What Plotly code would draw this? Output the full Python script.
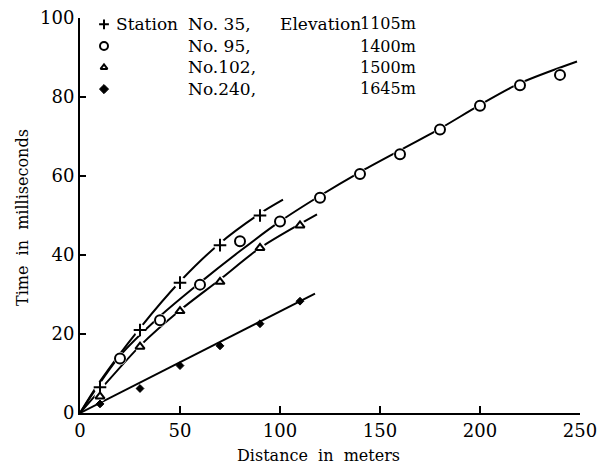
import plotly.graph_objects as go

FONT = "DejaVu Serif"

# Measured points
st35_x = [10, 30, 50, 70, 90]
st35_y = [6.5, 21, 33, 42.5, 50]
st95_x = [20, 40, 60, 80, 100, 120, 140, 160, 180, 200, 220, 240]
st95_y = [13.8, 23.5, 32.5, 43.5, 48.5, 54.5, 60.5, 65.5, 71.8, 77.8, 83, 85.6]
st102_x = [10, 30, 50, 70, 90, 110]
st102_y = [4.2, 16.8, 25.8, 33.2, 41.8, 47.5]
st240_x = [10, 30, 50, 70, 90, 110]
st240_y = [2.3, 6.2, 12, 17, 22.6, 28.3]

# Fitted curves as drawn
c35_x = [0, 10, 30, 50, 70, 90, 101.5]
c35_y = [0, 8, 21.5, 33.3, 43, 50.5, 54]
c95_x = [0, 20, 40, 60, 80, 100, 120, 140, 160, 180, 200, 220, 248.5]
c95_y = [0, 14.5, 24.5, 33, 41, 48.5, 55, 61, 66.5, 72, 78, 83.5, 89]
c102_x = [0, 10, 30, 50, 70, 90, 118.5]
c102_y = [0, 5.8, 17, 26, 33.8, 41.8, 50.3]
c240_x = [0, 117.5]
c240_y = [0, 30.2]

x_ticks = [0, 50, 100, 150, 200, 250]
y_ticks = [0, 20, 40, 60, 80, 100]

names = ["No. 35,", "No. 95,", "No.102,", "No.240,"]
elevations = ["1105m", "1400m", "1500m", "1645m"]
symbols = ["cross-thin-open", "circle-open", "triangle-up-open", "diamond"]
sizes = [9, 10, 8, 6]

fig = go.Figure()

curves = [(c35_x, c35_y), (c95_x, c95_y), (c102_x, c102_y), (c240_x, c240_y)]
for cx, cy in curves:
    fig.add_trace(go.Scatter(x=cx, y=cy, mode="lines",
                             line=dict(color="black", width=2, shape="spline", smoothing=0.8),
                             showlegend=False, hoverinfo="skip"))

pts = [(st35_x, st35_y), (st95_x, st95_y), (st102_x, st102_y), (st240_x, st240_y)]
# white halos to break the lines around open markers
for i, (px, py) in enumerate(pts[:3]):
    fig.add_trace(go.Scatter(x=px, y=py, mode="markers",
                             marker=dict(symbol="circle", size=sizes[i] + 3, color="white", line=dict(width=0)),
                             showlegend=False, hoverinfo="skip"))
for i, (px, py) in enumerate(pts):
    fig.add_trace(go.Scatter(x=px, y=py, mode="markers",
                             marker=dict(symbol=symbols[i], size=sizes[i], color="black",
                                         line=dict(color="black", width=2 if i < 3 else 1)),
                             showlegend=False, cliponaxis=False))

# legend keys
leg_x = [12, 12, 12, 12]
leg_y = [98.4, 92.9, 87.5, 82.0]
for i in range(4):
    fig.add_trace(go.Scatter(x=[leg_x[i]], y=[leg_y[i]], mode="markers",
                             marker=dict(symbol=symbols[i], size=sizes[i] - 2 if i < 3 else 7, color="black",
                                         line=dict(color="black", width=2 if i < 3 else 1)),
                             showlegend=False, cliponaxis=False))

def px2paper(xp, yp):
    return (xp - 80) / 500, (413 - yp) / 395

ann = []
rows_y = [24, 46, 67, 89]
tf = dict(family=FONT, size=17, color="black")
tf2 = dict(family=FONT, size=16, color="black")
for i in range(4):
    if i == 0:
        x0, y0 = px2paper(114, rows_y[i])
        ann.append(dict(text="Station", x=x0, y=y0, xanchor="left", yanchor="middle", showarrow=False, font=tf))
        x0, y0 = px2paper(363, rows_y[i])
        ann.append(dict(text="Elevation", x=x0, y=y0, xanchor="right", yanchor="middle", showarrow=False, font=tf))
    x0, y0 = px2paper(186, rows_y[i])
    ann.append(dict(text=names[i], x=x0, y=y0, xanchor="left", yanchor="middle", showarrow=False, font=tf))
    x0, y0 = px2paper(418, rows_y[i])
    ann.append(dict(text=elevations[i], x=x0, y=y0, xanchor="right", yanchor="middle", showarrow=False, font=tf2))

x0, y0 = px2paper(318, 456)
ann.append(dict(text="Distance  in  meters", x=x0, y=y0, xanchor="center", yanchor="middle", showarrow=False,
                font=dict(family=FONT, size=16, color="black")))
x0, y0 = px2paper(22, 218)
ann.append(dict(text="Time  in  milliseconds", x=x0, y=y0, xanchor="center", yanchor="middle", showarrow=False,
                textangle=-90, font=dict(family=FONT, size=16, color="black")))

for a in ann:
    a["xref"] = "paper"
    a["yref"] = "paper"

fig.update_layout(
    width=603, height=472,
    margin=dict(l=80, r=23, t=18, b=59, autoexpand=False),
    paper_bgcolor="white", plot_bgcolor="white",
    font=dict(family=FONT, size=16, color="black"),
    annotations=ann,
    xaxis=dict(range=[0, 250], tickvals=x_ticks, ticks="inside", ticklen=7, tickwidth=1.5, tickcolor="black",
               showline=True, linecolor="black", linewidth=2, showgrid=False, zeroline=False,
               automargin=False, tickfont=dict(family=FONT, size=18)),
    yaxis=dict(range=[0, 100], tickvals=y_ticks, ticks="inside", ticklen=6, tickwidth=1.5, tickcolor="black",
               showline=True, linecolor="black", linewidth=2, showgrid=False, zeroline=False,
               automargin=False, tickfont=dict(family=FONT, size=18)),
)

fig.write_html("out.html")
